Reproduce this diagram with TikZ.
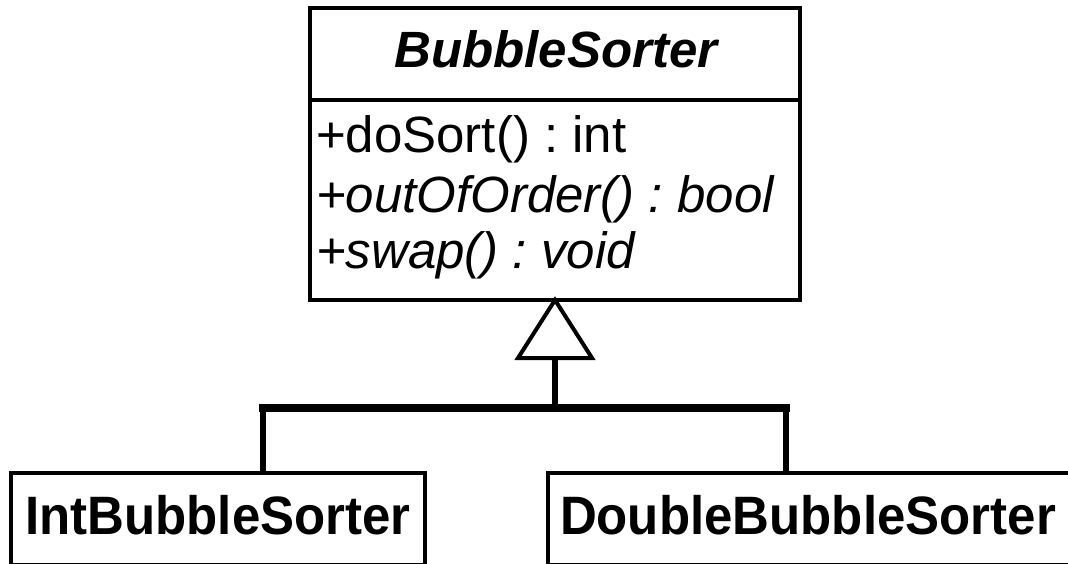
\documentclass[tikz,border=0pt]{standalone}
\usepackage{fontspec}
\setmainfont{Liberation Sans}
\frenchspacing
\begin{document}
\begin{tikzpicture}[x=1pt,y=-1pt,
  classbox/.style={draw=black, line width=4pt, fill=white, inner sep=0pt, outer sep=0pt},
  label/.style={inner sep=0pt, outer sep=0pt, font=\fontsize{51}{60}\selectfont},
  subname/.style={inner sep=0pt, outer sep=0pt, yscale=1.06, font=\fontsize{51}{60}\selectfont\bfseries},
  link/.style={line width=6pt, line cap=butt},
  bar/.style={line width=7.5pt, line cap=rect}]
  \useasboundingbox (0,0) rectangle (1068,564);

  % abstract base class
  \node[classbox, minimum width=490pt, minimum height=292pt] (base) at (555,154) {};
  \draw[line width=4pt] (base.west |- 0,100) coordinate (divw) -- (base.east |- 0,100) coordinate (dive);
  \node[label, anchor=base, font=\fontsize{51}{60}\selectfont\bfseries\itshape] (title) at (556,68) {BubbleSorter};
  \node[label, anchor=base west] (m1) at (316,153) {+doSort() : int};
  \node[label, anchor=base west, font=\fontsize{51}{60}\selectfont\itshape] (m2) at (316,213) {+outOfOrder() : bool};
  \node[label, anchor=base west, font=\fontsize{51}{60}\selectfont\itshape] (m3) at (316,268) {+swap() : void};

  % subclasses
  \node[classbox, minimum width=414pt, minimum height=92pt] (left) at (218,519) {};
  \node[classbox, minimum width=527pt, minimum height=92pt] (right) at (811.5,519) {};
  \node[subname, anchor=base] (ltext) at (218,534) {IntBubbleSorter};
  \node[subname, anchor=base west] (rtext) at (560,534) {DoubleBubbleSorter};

  % generalization arrow
  \coordinate (tribase) at (555,358);
  \coordinate (junction) at (555,408);
  \coordinate (lj) at (263,473);
  \coordinate (rj) at (786,473);
  \draw[line width=4pt, line join=miter, fill=white]
    (base.south) -- ([xshift=37pt]tribase) -- ([xshift=-37pt]tribase) -- cycle;
  \draw[link] (tribase) -- (junction);
  \draw[link] (lj) -- (lj |- junction);
  \draw[link] (rj) -- (rj |- junction);
  \draw[bar] (lj |- junction) -- (rj |- junction);
\end{tikzpicture}
\end{document}
